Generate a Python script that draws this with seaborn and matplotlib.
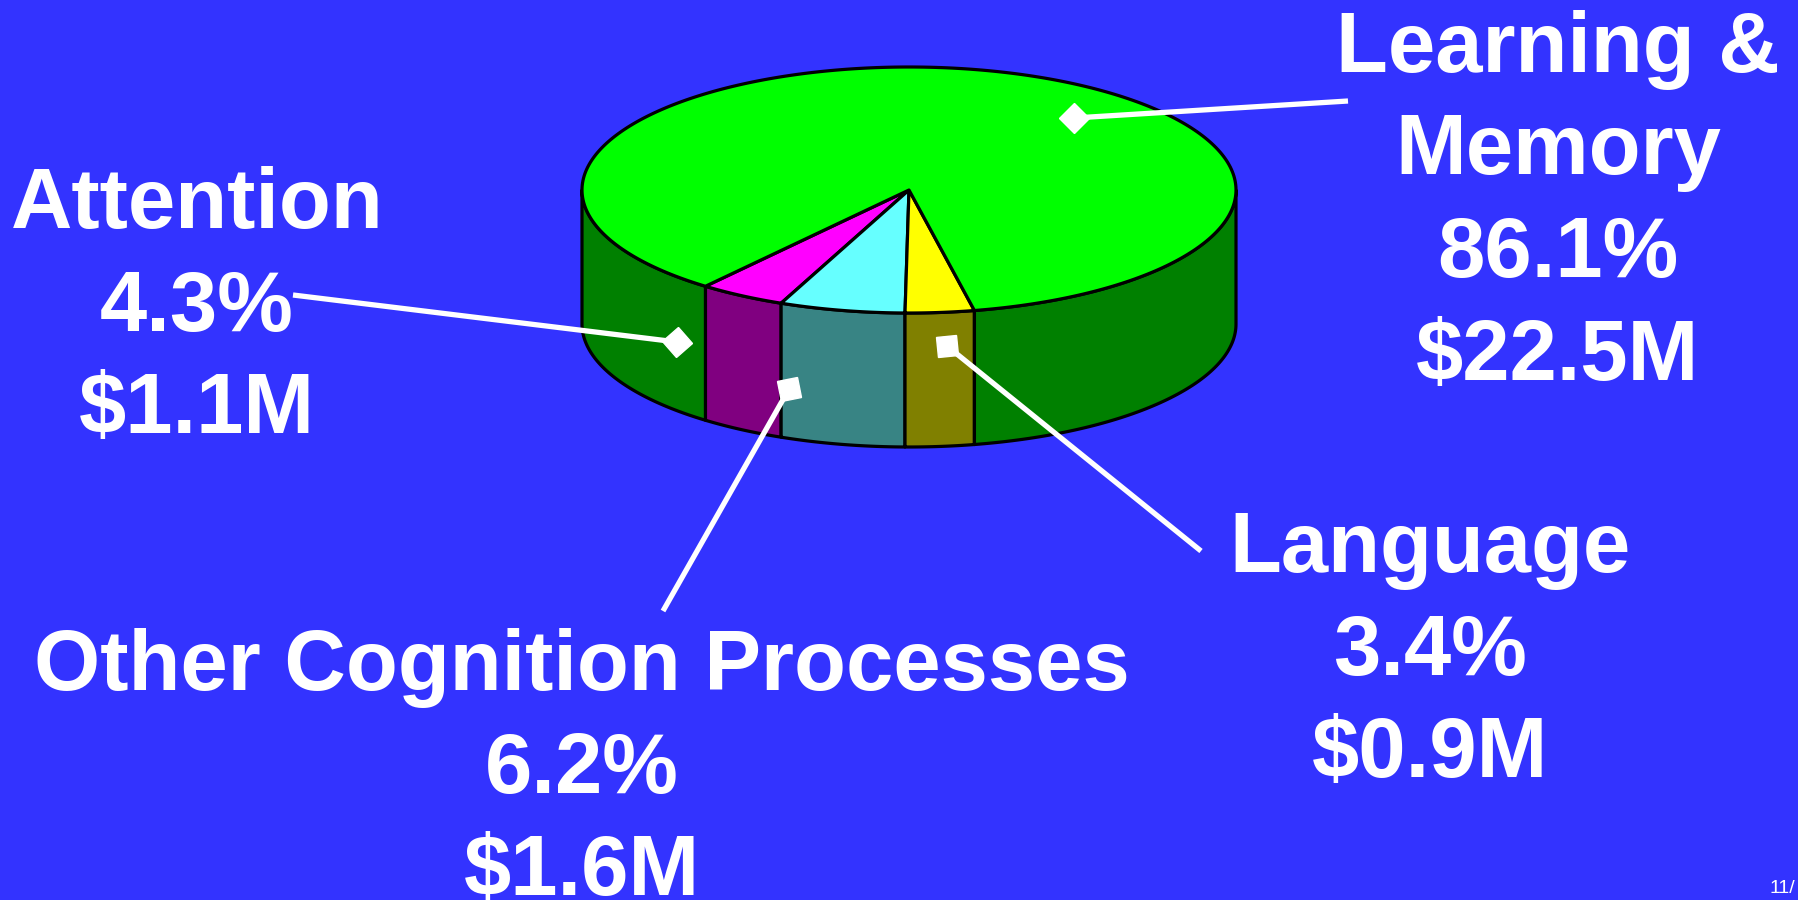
import numpy as np
import matplotlib
matplotlib.use("Agg")
import matplotlib.pyplot as plt
from matplotlib.patches import Polygon
from matplotlib.markers import MarkerStyle
from matplotlib.transforms import Affine2D
import seaborn as sns

# Funding split by research area (slices listed counter-clockwise)
areas = ["Attention", "Other Cognition Processes", "Language", "Learning &\nMemory"]
shares = [4.3, 6.2, 3.4, 86.1]
dollars = ["$1.1M", "$1.6M", "$0.9M", "$22.5M"]
top_colors = ["#FF00FF", "#66FFFF", "#FFFF00", "#00FF00"]
side_colors = ["#800080", "#388484", "#808000", "#008000"]

BG = "#3333FF"

sns.set_theme(style="white")
plt.rcParams["font.family"] = ["Liberation Sans", "DejaVu Sans"]

fig = plt.figure(figsize=(17.99, 9.0), dpi=100)
fig.patch.set_facecolor(BG)
ax = fig.add_axes([0, 0, 1, 1])
ax.set_facecolor(BG)
ax.set_xlim(0, 1799)
ax.set_ylim(900, 0)
ax.axis("off")

# pie geometry in pixel space (tilted disc)
cx, cy, a, b, depth = 909, 190, 327, 123, 134
start = -128.5


def pt(t, dz=0.0):
    r = np.radians(t)
    return cx + a * np.cos(r), cy - b * np.sin(r) + dz


spans = np.array(shares) / sum(shares) * 360
edges = start + np.concatenate([[0], np.cumsum(spans)])

# side walls first (only the front half, angles between -180 and 0)
for i in range(len(shares)):
    t0, t1 = edges[i], edges[i + 1]
    for off in (0, 360):
        lo = max(t0 - off, -180)
        hi = min(t1 - off, 0)
        if hi <= lo:
            continue
        ts = np.linspace(lo, hi, 80)
        top = [pt(t) for t in ts]
        bot = [pt(t, depth) for t in ts[::-1]]
        ax.add_patch(Polygon(top + bot, closed=True, facecolor=side_colors[i],
                             edgecolor="black", lw=2.3, joinstyle="round"))

# top faces
for i in range(len(shares)):
    ts = np.linspace(edges[i], edges[i + 1], 300)
    verts = [(cx, cy)] + [pt(t) for t in ts]
    ax.add_patch(Polygon(verts, closed=True, facecolor=top_colors[i],
                         edgecolor="black", lw=2.3, joinstyle="round"))

# leader lines: (marker on pie, end near label, marker rotation)
leaders = {
    "Learning &\nMemory": ((1074, 118), (1348, 101), 45),
    "Attention": ((677, 342), (293, 295), 40),
    "Other Cognition Processes": ((789, 389), (663, 611), 13),
    "Language": ((947, 346), (1201, 551), 5),
}
for name, (p0, p1, rot) in leaders.items():
    ax.plot([p0[0], p1[0]], [p0[1], p1[1]], color="white", lw=3.8,
            solid_capstyle="butt", zorder=5)
    m = MarkerStyle("s", transform=Affine2D().rotate_deg(rot))
    ax.plot(p0[0], p0[1], marker=m, ms=15, color="white", mec="white", zorder=6)

# labels: (center x, first baseline)
label_pos = {
    "Learning &\nMemory": (1558, 72),
    "Attention": (197, 228),
    "Other Cognition Processes": (582, 690),
    "Language": (1430, 572),
}
pitch = 102.5
for name, share, money in zip(areas, shares, dollars):
    x, y0 = label_pos[name]
    lines = name.split("\n") + [f"{share}%", money]
    for k, line in enumerate(lines):
        ax.text(x, y0 + k * pitch, line, color="white", fontsize=61.2,
                fontweight="bold", ha="center", va="baseline", zorder=7)

ax.text(1770, 893, "11/", color="white", fontsize=14, ha="left", va="baseline")

fig.savefig("out.png", dpi=100, facecolor=BG)
